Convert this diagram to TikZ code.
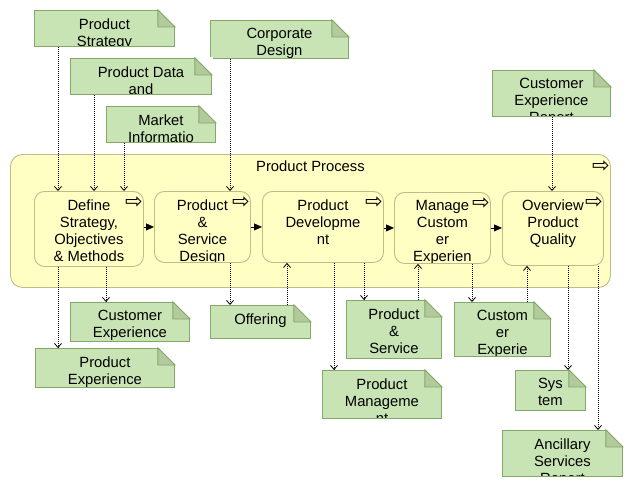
\documentclass[tikz,border=0pt]{standalone}
\usepackage{fontspec}
\setmainfont{Liberation Sans}
\newfontfamily\symfont{DejaVu Sans}
\usetikzlibrary{arrows.meta}
\definecolor{notefill}{HTML}{C8E4B4}
\definecolor{foldfill}{HTML}{B2CA9C}
\definecolor{noteline}{HTML}{84A86A}
\definecolor{procfill}{HTML}{FFFFC4}
\definecolor{procline}{HTML}{BDBD8A}

\begin{document}
\begin{tikzpicture}
[
    x=1pt, y=-1pt,
    every node/.style={font=\fontsize{14.8}{17}\selectfont},
    pool/.style={draw=procline, fill=procfill, line width=0.9pt, rounded corners=12pt, inner sep=0, anchor=north west},
    process/.style={draw=procline, fill=procfill, line width=0.9pt, rounded corners=10pt, inner sep=0, anchor=north west,
        path picture={\node[inner sep=0, minimum size=0, align=center, anchor=north] at ([yshift=-7.5pt]path picture bounding box.north) {#1};}},
    note/.style={draw=noteline, fill=notefill, line width=0.9pt, inner sep=0, anchor=north west,
        path picture={\node[inner sep=0, minimum size=0, align=center, anchor=north] at ([yshift=-7.5pt]path picture bounding box.north) {#1};}},
    fold/.style={draw=noteline, fill=foldfill, line width=0.9pt},
    sym/.style={font=\symfont\fontsize{21}{21}\selectfont, inner sep=0},
    flow/.style={black, line width=0.8pt, dash pattern=on 1pt off 1pt, -{Straight Barb[length=4pt,width=7pt]}},
    seq/.style={black, line width=0.9pt, -{Triangle[length=8pt,width=7pt]}},
]
\useasboundingbox (0,0) rectangle (632,487);

% process container
\node[pool, minimum width=600, minimum height=133] (process) at (10,154) {};
\node (title) at ([yshift=-12.5pt]process.north) {Product Process};
\node[sym] (process-sym) at ([xshift=-10pt,yshift=-13pt]process.north east) {⇨};

% steps
\node[process={Define\\Strategy,\\Objectives\\\& Methods}, minimum width=109, minimum height=75] (define) at (34,191) {};
\node[process={Product\\\&\\Service\\Design}, minimum width=96, minimum height=71] (psdesign) at (154,191) {};
\node[process={Product\\Developme\\nt}, minimum width=121, minimum height=71] (pdev) at (262,191) {};
\node[process={Manage\\Custom\\er\\Experien}, minimum width=96, minimum height=71] (manage) at (394,192) {};
\node[process={Overview\\Product\\Quality}, minimum width=101, minimum height=74] (overview) at (502,191) {};
\foreach \n in {define,psdesign,pdev,manage,overview}
    \node[sym] (\n-sym) at ([xshift=-10pt,yshift=-12pt]\n.north east) {⇨};

% data objects
\node[note={Product\\Strategy}, minimum width=140, minimum height=36] (strategy) at (34,10) {};
\node[note={Corporate\\Design}, minimum width=138, minimum height=38] (corporate) at (210,20) {};
\node[note={Product Data\\and}, minimum width=141, minimum height=36] (productdata) at (70,58) {};
\node[note={Market\\Informatio}, minimum width=109, minimum height=36] (market) at (106,106) {};
\node[note={Customer\\Experience\\Report}, minimum width=118, minimum height=46] (cxreport) at (492,70) {};
\node[note={Customer\\Experience}, minimum width=119, minimum height=39] (cxexp) at (70,302) {};
\node[note={Product\\Experience}, minimum width=139, minimum height=39] (pexp) at (35,348) {};
\node[note={Offering}, minimum width=100, minimum height=33] (offering) at (210,305) {};
\node[note={Product\\\&\\Service}, minimum width=95, minimum height=58] (psnote) at (346,300) {};
\node[note={Custom\\er\\Experie}, minimum width=96, minimum height=54] (cxnote) at (454,302) {};
\node[note={Product\\Manageme\\nt}, minimum width=119, minimum height=48] (pmgmt) at (322,370) {};
\node[note={Sys\\tem}, minimum width=70, minimum height=40] (system) at (515,370) {};
\node[note={Ancillary\\Services\\Report}, minimum width=120, minimum height=46] (ancillary) at (502,430) {};
\foreach \n in {strategy,corporate,productdata,market,cxreport,cxexp,pexp,offering,psnote,cxnote,pmgmt,system,ancillary}
{
    \fill[white] ([xshift=-17pt,yshift=1pt]\n.north east) -- ([xshift=1pt,yshift=1pt]\n.north east) -- ([xshift=1pt,yshift=-17pt]\n.north east) -- cycle;
    \filldraw[fold] ([xshift=-17pt]\n.north east) |- ([yshift=-17pt]\n.north east) -- cycle;
}

% sequence
\draw[seq] (define.east |- psdesign.west) -- (psdesign.west);
\draw[seq] (psdesign.east) -- (pdev.west);
\draw[seq] (pdev.east |- manage.west) -- (manage.west);
\draw[seq] (manage.east) -- (manage.east -| overview.west);

% inputs and outputs
\draw[flow] ([xshift=24pt]strategy.south west) -- ([xshift=24pt]define.north west);
\draw[flow] ([xshift=24pt]productdata.south west) -- ([xshift=60pt]define.north west);
\draw[flow] ([xshift=18pt]market.south west) -- ([xshift=90pt]define.north west);
\draw[flow] ([xshift=20pt]corporate.south west) -- ([xshift=76pt]psdesign.north west);
\draw[flow] ([xshift=60pt]cxreport.south west) -- ([xshift=50pt]overview.north west);
\draw[flow] ([xshift=24pt]define.south west) -- ([xshift=23pt]pexp.north west);
\draw[flow] ([xshift=72pt]define.south west) -- ([xshift=36pt]cxexp.north west);
\draw[flow] ([xshift=76pt]psdesign.south west) -- ([xshift=20pt]offering.north west);
\draw[flow] ([xshift=77pt]offering.north west) -- ([xshift=25pt]pdev.south west);
\draw[flow] ([xshift=72pt]pdev.south west) -- ([xshift=12pt]pmgmt.north west);
\draw[flow] ([xshift=102pt]pdev.south west) -- ([xshift=18pt]psnote.north west);
\draw[flow] ([xshift=72pt]psnote.north west) -- ([xshift=24pt]manage.south west);
\draw[flow] ([xshift=78pt]manage.south west) -- ([xshift=18pt]cxnote.north west);
\draw[flow] ([xshift=73pt]cxnote.north west) -- ([xshift=25pt]overview.south west);
\draw[flow] ([xshift=66pt]overview.south west) -- ([xshift=53pt]system.north west);
\draw[flow] ([xshift=96pt]overview.south west) -- ([xshift=96pt]ancillary.north west);
\end{tikzpicture}
\end{document}
